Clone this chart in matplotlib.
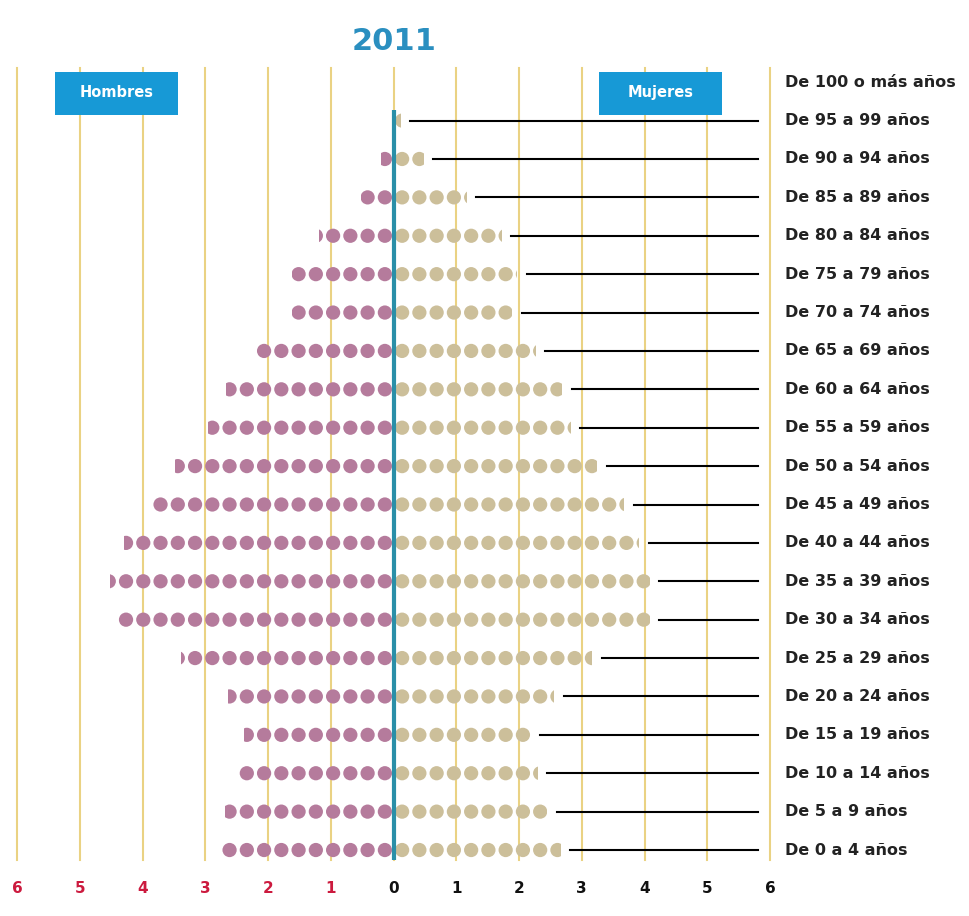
"""
Piramide de poblacion 2011 con puntos (cada punto = 0,275 %)
"""

import math
import matplotlib.pyplot as plt
from matplotlib.patches import Rectangle

# grupos de edad, de abajo hacia arriba
edades = ['De 0 a 4 años', 'De 5 a 9 años', 'De 10 a 14 años', 'De 15 a 19 años',
          'De 20 a 24 años', 'De 25 a 29 años', 'De 30 a 34 años', 'De 35 a 39 años',
          'De 40 a 44 años', 'De 45 a 49 años', 'De 50 a 54 años', 'De 55 a 59 años',
          'De 60 a 64 años', 'De 65 a 69 años', 'De 70 a 74 años', 'De 75 a 79 años',
          'De 80 a 84 años', 'De 85 a 89 años', 'De 90 a 94 años', 'De 95 a 99 años',
          'De 100 o más años']

# porcentajes
hombres = [2.75, 2.69, 2.48, 2.38, 2.64, 3.39, 4.41, 4.51, 4.29, 3.86, 3.49,
           2.96, 2.67, 2.19, 1.62, 1.62, 1.18, 0.52, 0.2, 0.0, 0.0]
mujeres = [2.67, 2.45, 2.3, 2.19, 2.56, 3.17, 4.08, 4.08, 3.92, 3.68, 3.25,
           2.83, 2.69, 2.27, 1.89, 1.97, 1.73, 1.17, 0.48, 0.12, 0.0]

ticks = [-6, -5, -4, -3, -2, -1, 0, 1, 2, 3, 4, 5, 6]
paso = 0.275  # distancia entre puntos

c_hombre = '#b57b9c'
c_mujer = '#ccbf9a'
c_rejilla = '#ead283'
c_centro = '#2a8fa8'
c_caja = '#1799d6'

fig = plt.figure(figsize=(9.7, 9.16), dpi=100)
ax = fig.add_axes([17/970, 1 - 860/916, 753/970, 792/916])
ax.set_xlim(-6, 6)
ax.set_ylim(-0.26, 20.37)
for s in ax.spines.values():
    s.set_visible(False)
ax.set_yticks([])

# rejilla vertical
for t in ticks:
    ax.axvline(t, color=c_rejilla, lw=1.5, zorder=0, clip_on=False)
ax.plot([0, 0], [-0.26, 19.27], color=c_centro, lw=3, zorder=5, solid_capstyle='butt')

# puntos
for i in range(len(edades)):
    for valor, signo, color in [(hombres[i], -1, c_hombre), (mujeres[i], 1, c_mujer)]:
        if valor <= 0:
            continue
        n = math.ceil(valor / paso)
        xs = [signo * (k + 0.5) * paso for k in range(n)]
        ys = [i] * n
        sc = ax.scatter(xs, ys, s=105, color=color, edgecolors='none', zorder=3)
        x0 = 0 if signo > 0 else -valor
        clip = Rectangle((x0, i - 0.5), valor, 1, transform=ax.transData)
        sc.set_clip_path(clip)

# lineas y etiquetas de edad
for i in range(len(edades)):
    if i < 20:
        ax.plot([mujeres[i] + 0.15, 5.81], [i, i], color='black', lw=1.5, zorder=4)
    ax.text(6.24, i, edades[i], ha='left', va='center', fontsize=11.5,
            fontweight='bold', color='#222222', clip_on=False)

# numeros del eje
ax.set_xticks(ticks)
ax.set_xticklabels([str(abs(t)) for t in ticks], fontsize=11, fontweight='bold')
ax.tick_params(axis='x', length=0, pad=15)
for t, lab in zip(ticks, ax.get_xticklabels()):
    lab.set_color('#cc1a3e' if t < 0 else '#111111')

# cajas Hombres / Mujeres
for x0, texto in [(-5.39, 'Hombres'), (3.27, 'Mujeres')]:
    ax.add_patch(Rectangle((x0, 19.14), 1.96, 1.12, facecolor=c_caja,
                           edgecolor='none', zorder=6, clip_on=False))
    ax.text(x0 + 0.98, 19.72, texto, ha='center', va='center', fontsize=10.5,
            fontweight='bold', color='white', zorder=7)

fig.text(394/970, 1 - 42/916, '2011', ha='center', va='center', fontsize=22,
         fontweight='bold', color='#2a8fc0')

fig.savefig('out.png', dpi=100)
